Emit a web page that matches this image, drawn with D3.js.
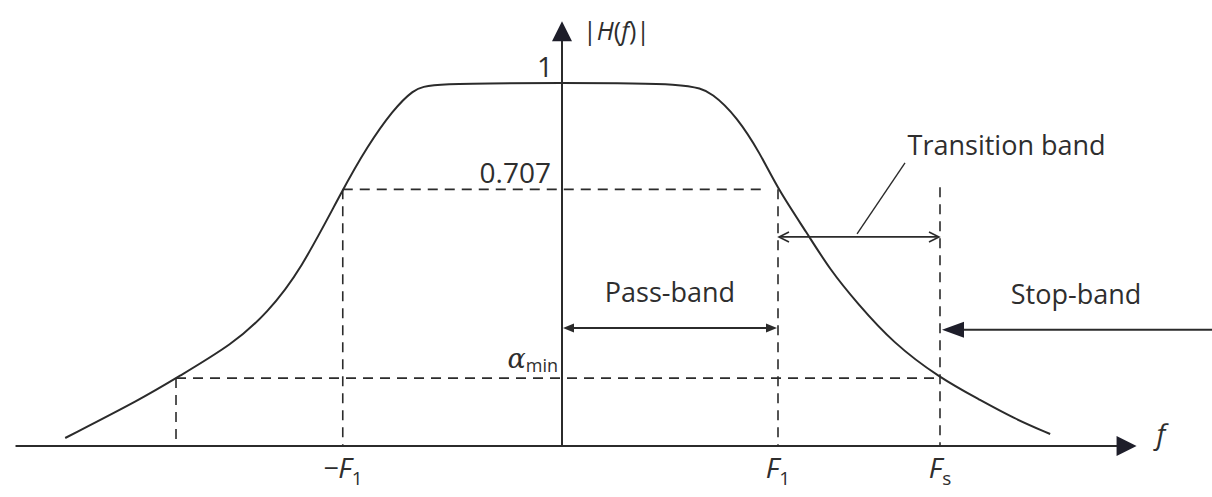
<!DOCTYPE html>
<html>
<head>
<meta charset="utf-8">
<script src="https://cdn.jsdelivr.net/npm/d3@7"></script>
<style>
  html, body { margin: 0; padding: 0; background: #fff; }
  svg text { font-family: "Open Sans", sans-serif; fill: #2e2e2e; }
</style>
</head>
<body>
<svg id="chart"></svg>
<script>
// |H(f)|, f in units of F1
const freq = [-2.30, -1.94, -1.787, -1.52, -1.366, -1.213, -1.015, -0.903, -0.782, -0.69, -0.611, 0, 0.593,
              0.699, 0.81, 0.917, 1.0, 1.134, 1.241, 1.366, 1.532, 1.75, 1.935, 2.088, 2.26];
const gain = [0.022, 0.132, 0.187, 0.282, 0.366, 0.48, 0.707, 0.824, 0.926, 0.981, 1, 1, 1,
              0.972, 0.906, 0.807, 0.707, 0.587, 0.485, 0.394, 0.284, 0.187, 0.127, 0.077, 0.033];

// reference levels on the |H| axis
const levelValues = [1, 0.707, 0.187];
const levelLabels = ["1", "0.707", "α"];

// frequency marks
const tickValues = [-1.015, 1, 1.75];
const tickNames = ["\u2212F", "F", "F"];
const tickSubs = ["1", "1", "s"];
const alphaLeft = -1.787;   // where the curve meets α_min on the left

// bands
const bandNames = ["Pass-band", "Transition band", "Stop-band"];
const bandFrom = [0, 1, 1.75];
const bandTo = [1, 1.75, 3.02];

const width = 1212, height = 497;

const x = d3.scaleLinear().domain([-2.5, 2.5]).range([22, 1102]);
const y = d3.scaleLinear().domain([0, 1]).range([446, 83]);

const svg = d3.select("#chart")
  .attr("width", width)
  .attr("height", height)
  .attr("viewBox", [0, 0, width, height]);

const ink = "#2b2b2b";
const data = freq.map((f, i) => ({ f, h: gain[i] }));

// small helper for filled arrow heads
function head(tx, ty, dx, dy, len, half) {
  const bx = tx - dx * len, by = ty - dy * len;
  const px = -dy * half, py = dx * half;
  return `M${tx},${ty}L${bx + px},${by + py}L${bx - px},${by - py}Z`;
}

// dashed guides
const dashes = [
  [x(tickValues[0]), y(levelValues[1]), x(0.93), y(levelValues[1])],
  [x(tickValues[0]), y(levelValues[1]), x(tickValues[0]), y(0)],
  [x(tickValues[1]), y(levelValues[1]), x(tickValues[1]), y(0)],
  [x(tickValues[2]), y(0.713), x(tickValues[2]), y(0)],
  [x(alphaLeft), y(levelValues[2]), x(tickValues[2]), y(levelValues[2])],
  [x(alphaLeft), y(levelValues[2]), x(alphaLeft), y(0)]
];
svg.append("g")
  .attr("stroke", ink)
  .attr("stroke-width", 1.6)
  .attr("stroke-dasharray", "10,7")
  .selectAll("line")
  .data(dashes)
  .join("line")
  .attr("x1", d => d[0]).attr("y1", d => d[1])
  .attr("x2", d => d[2]).attr("y2", d => d[3]);

// axes
const xEnd = x(2.66), yTop = y(1.17);
svg.append("line")
  .attr("x1", x(-2.53)).attr("x2", xEnd - 10)
  .attr("y1", y(0)).attr("y2", y(0))
  .attr("stroke", ink).attr("stroke-width", 2);
svg.append("path").attr("d", head(xEnd, y(0), 1, 0, 20, 10)).attr("fill", "#1e1e2a");
svg.append("line")
  .attr("x1", x(0)).attr("x2", x(0))
  .attr("y1", y(0)).attr("y2", yTop + 10)
  .attr("stroke", ink).attr("stroke-width", 2);
svg.append("path").attr("d", head(x(0), yTop, 0, -1, 20, 10)).attr("fill", "#1e1e2a");

svg.append("text")
  .attr("x", xEnd + 20).attr("y", y(0) - 2)
  .attr("font-size", 28).attr("font-style", "italic")
  .text("f");

const hl = svg.append("text")
  .attr("x", x(0) + 21).attr("y", 40)
  .attr("font-size", 25);
hl.append("tspan").text("|");
hl.append("tspan").attr("font-style", "italic").text("H");
hl.append("tspan").text("(");
hl.append("tspan").attr("font-style", "italic").text("f");
hl.append("tspan").text(")|");

// the response curve
const line = d3.line()
  .x(d => x(d.f))
  .y(d => y(d.h))
  .curve(d3.curveBasis);

svg.append("path")
  .datum(data)
  .attr("fill", "none")
  .attr("stroke", ink)
  .attr("stroke-width", 2)
  .attr("d", line);

// level labels
svg.append("text")
  .attr("x", x(0) - 9).attr("y", y(levelValues[0]) - 6)
  .attr("text-anchor", "end").attr("font-size", 28)
  .text(levelLabels[0]);
svg.append("text")
  .attr("x", x(0) - 11).attr("y", y(levelValues[1]) - 6)
  .attr("text-anchor", "end").attr("font-size", 28)
  .text(levelLabels[1]);
const al = svg.append("text")
  .attr("x", x(0) - 4).attr("y", y(levelValues[2]) - 10)
  .attr("text-anchor", "end").attr("font-size", 27);
al.append("tspan").attr("font-style", "italic").attr("font-family", "DejaVu Serif").text(levelLabels[2]);
al.append("tspan").attr("font-size", 18).attr("dy", 4).text("min");

// frequency tick labels
const tk = svg.append("g")
  .selectAll("text")
  .data(tickValues)
  .join("text")
  .attr("x", d => x(d))
  .attr("y", 478)
  .attr("text-anchor", "middle")
  .attr("font-size", 28);
tk.append("tspan").attr("font-style", "italic").text((d, i) => tickNames[i]);
tk.append("tspan").attr("font-size", 19).attr("dy", 7).text((d, i) => tickSubs[i]);

// pass-band arrow
const passY = y(0.325);
svg.append("line")
  .attr("x1", x(bandFrom[0]) + 6).attr("x2", x(bandTo[0]) - 6)
  .attr("y1", passY).attr("y2", passY)
  .attr("stroke", ink).attr("stroke-width", 2);
svg.append("path").attr("d", head(x(bandFrom[0]) + 1, passY, -1, 0, 11, 4.5)).attr("fill", ink);
svg.append("path").attr("d", head(x(bandTo[0]) - 1, passY, 1, 0, 11, 4.5)).attr("fill", ink);
svg.append("text")
  .attr("x", (x(bandFrom[0]) + x(bandTo[0])) / 2).attr("y", 302)
  .attr("text-anchor", "middle").attr("font-size", 27)
  .text(bandNames[0]);

// transition band arrow with chevron heads
const trY = y(0.576);
const tx1 = x(bandFrom[1]) + 1, tx2 = x(bandTo[1]) - 1;
svg.append("line")
  .attr("x1", tx1).attr("x2", tx2)
  .attr("y1", trY).attr("y2", trY)
  .attr("stroke", ink).attr("stroke-width", 1.6);
svg.append("path")
  .attr("d", `M${tx1 + 10},${trY - 5}L${tx1},${trY}L${tx1 + 10},${trY + 5}M${tx2 - 10},${trY - 5}L${tx2},${trY}L${tx2 - 10},${trY + 5}`)
  .attr("fill", "none").attr("stroke", ink).attr("stroke-width", 1.6);
svg.append("line")
  .attr("x1", x(1.366)).attr("y1", trY - 3)
  .attr("x2", x(1.588)).attr("y2", y(0.78))
  .attr("stroke", ink).attr("stroke-width", 1.4);
svg.append("text")
  .attr("x", x(1.6)).attr("y", 155)
  .attr("font-size", 27)
  .text(bandNames[1]);

// stop-band arrow
const stY = y(0.32);
svg.append("line")
  .attr("x1", x(bandFrom[2]) + 18).attr("x2", x(bandTo[2]))
  .attr("y1", stY).attr("y2", stY)
  .attr("stroke", ink).attr("stroke-width", 2);
svg.append("path").attr("d", head(x(bandFrom[2]) + 2, stY, -1, 0, 22, 8)).attr("fill", "#1e1e2a");
svg.append("text")
  .attr("x", 1076).attr("y", 304)
  .attr("text-anchor", "middle").attr("font-size", 27)
  .text(bandNames[2]);
</script>
</body>
</html>
